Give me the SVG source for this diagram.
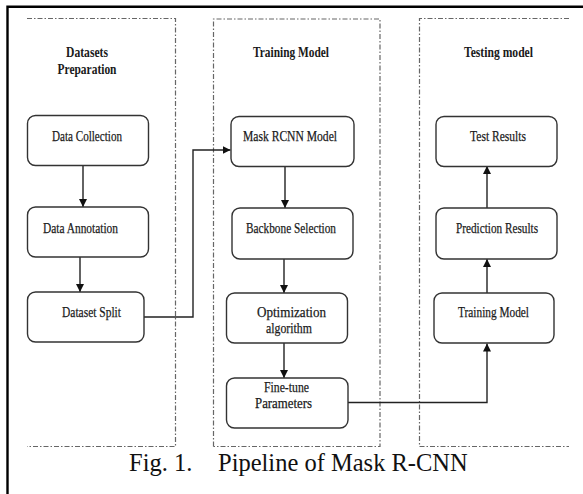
<svg xmlns="http://www.w3.org/2000/svg" width="583" height="494" viewBox="0 0 583 494">
  <defs>
    <marker id="arrow" viewBox="0 0 10 10" refX="10" refY="5" markerWidth="8" markerHeight="8" markerUnits="userSpaceOnUse" orient="auto">
      <path d="M0,0 L10,5 L0,10 Z" fill="#111"/>
    </marker>
  </defs>
  <style>
    .frame { stroke: #000; stroke-width: 2.4; fill: none; }
    .panel { stroke: #666; stroke-width: 1.2; fill: none; stroke-dasharray: 5 2 1.5 2; }
    .box { fill: #fff; stroke: #333; stroke-width: 1.4; }
    .lbl { font-family: "Liberation Serif", "Times New Roman", serif; font-size: 15.5px; fill: #1a1a1a; stroke: #1a1a1a; stroke-width: 0.25; }
    .ttl { font-family: "Liberation Serif", "Times New Roman", serif; font-size: 15.5px; font-weight: bold; fill: #1a1a1a; }
    .cap { font-family: "Liberation Serif", "Times New Roman", serif; font-size: 24.5px; fill: #111; }
    .conn { stroke: #222; stroke-width: 1.4; fill: none; }
  </style>
  <rect width="583" height="494" fill="#fff"/>

  <!-- outer frame: top and left rules -->
  <path class="frame" d="M7.5,494 V6.8 H583"/>

  <!-- stage panels -->
  <g id="panel-datasets">
    <path class="panel" d="M27,18.5 H175.5 V446.5 H27"/>
    <text class="ttl" x="87" y="57" text-anchor="middle" textLength="42" lengthAdjust="spacingAndGlyphs">Datasets</text>
    <text class="ttl" x="87" y="74" text-anchor="middle" textLength="59" lengthAdjust="spacingAndGlyphs">Preparation</text>
  </g>
  <g id="panel-training">
    <path class="panel" d="M213.5,446.5 V19 H380 V446.5 H213.5"/>
    <text class="ttl" x="291" y="57" text-anchor="middle" textLength="76" lengthAdjust="spacingAndGlyphs">Training Model</text>
  </g>
  <g id="panel-testing">
    <path class="panel" d="M569,18.5 H419.5 V446.5 H569"/>
    <text class="ttl" x="498.5" y="57" text-anchor="middle" textLength="69" lengthAdjust="spacingAndGlyphs">Testing model</text>
  </g>

  <!-- connectors -->
  <g id="connectors">
    <line class="conn" x1="83" y1="165" x2="83" y2="207" marker-end="url(#arrow)"/>
    <line class="conn" x1="80" y1="257" x2="80" y2="292" marker-end="url(#arrow)"/>
    <path class="conn" d="M144,317 H193 V150 H230.5" marker-end="url(#arrow)"/>
    <line class="conn" x1="285" y1="166" x2="285" y2="208" marker-end="url(#arrow)"/>
    <line class="conn" x1="284" y1="259" x2="284" y2="293" marker-end="url(#arrow)"/>
    <line class="conn" x1="284" y1="343" x2="284" y2="378" marker-end="url(#arrow)"/>
    <path class="conn" d="M348,402.5 H487 V343.5" marker-end="url(#arrow)"/>
    <line class="conn" x1="487" y1="293" x2="487" y2="259" marker-end="url(#arrow)"/>
    <line class="conn" x1="487" y1="208" x2="487" y2="166" marker-end="url(#arrow)"/>
  </g>

  <!-- dataset preparation nodes -->
  <g id="data-collection">
    <rect class="box" x="27.5" y="115.5" width="121" height="50" rx="8"/>
    <text class="lbl" x="52" y="141" textLength="70" lengthAdjust="spacingAndGlyphs">Data Collection</text>
  </g>
  <g id="data-annotation">
    <rect class="box" x="27.5" y="207" width="121" height="50" rx="8"/>
    <text class="lbl" x="43" y="233" textLength="75" lengthAdjust="spacingAndGlyphs">Data Annotation</text>
  </g>
  <g id="dataset-split">
    <rect class="box" x="27.5" y="292" width="116.5" height="50" rx="8"/>
    <text class="lbl" x="62" y="317" textLength="59" lengthAdjust="spacingAndGlyphs">Dataset Split</text>
  </g>

  <!-- training nodes -->
  <g id="mask-rcnn-model">
    <rect class="box" x="231" y="116.5" width="123" height="50" rx="8"/>
    <text class="lbl" x="243" y="141" textLength="94" lengthAdjust="spacingAndGlyphs">Mask RCNN Model</text>
  </g>
  <g id="backbone-selection">
    <rect class="box" x="232" y="208" width="121" height="51" rx="8"/>
    <text class="lbl" x="246" y="233" textLength="90" lengthAdjust="spacingAndGlyphs">Backbone Selection</text>
  </g>
  <g id="optimization-algorithm">
    <rect class="box" x="226.5" y="293" width="121" height="50" rx="8"/>
    <text class="lbl" x="257" y="317" textLength="69" lengthAdjust="spacingAndGlyphs">Optimization</text>
    <text class="lbl" x="266" y="333" textLength="46" lengthAdjust="spacingAndGlyphs">algorithm</text>
  </g>
  <g id="fine-tune-parameters">
    <rect class="box" x="226.5" y="378" width="121.5" height="50" rx="8"/>
    <text class="lbl" x="264" y="392" textLength="45" lengthAdjust="spacingAndGlyphs">Fine-tune</text>
    <text class="lbl" x="255" y="408" textLength="57" lengthAdjust="spacingAndGlyphs">Parameters</text>
  </g>

  <!-- testing nodes -->
  <g id="test-results">
    <rect class="box" x="436" y="116.5" width="121" height="50" rx="8"/>
    <text class="lbl" x="470" y="141" textLength="56" lengthAdjust="spacingAndGlyphs">Test Results</text>
  </g>
  <g id="prediction-results">
    <rect class="box" x="436" y="208" width="121" height="51" rx="8"/>
    <text class="lbl" x="456" y="233" textLength="82" lengthAdjust="spacingAndGlyphs">Prediction Results</text>
  </g>
  <g id="training-model">
    <rect class="box" x="434" y="293" width="120" height="50" rx="8"/>
    <text class="lbl" x="458" y="317" textLength="71" lengthAdjust="spacingAndGlyphs">Training Model</text>
  </g>

  <!-- caption -->
  <text class="cap" y="471"><tspan x="129">Fig. 1.</tspan><tspan x="218">Pipeline of Mask R-CNN</tspan></text>
</svg>
